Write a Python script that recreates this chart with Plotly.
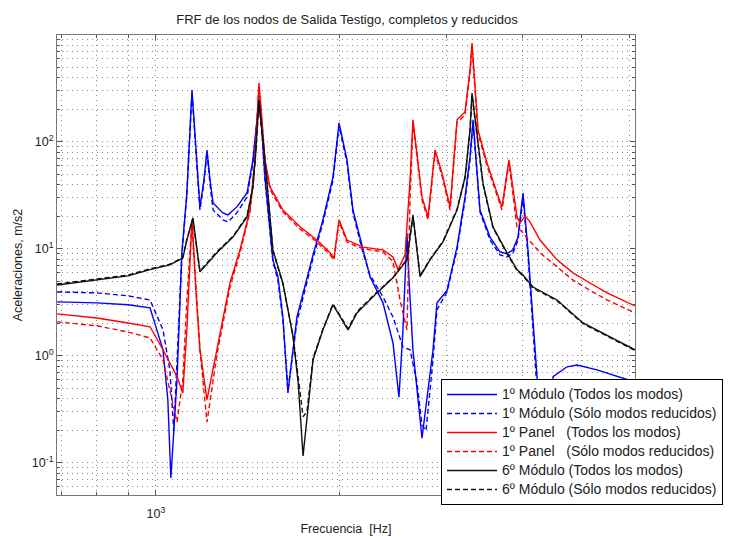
import plotly.graph_objects as go
import math

# ---------------- data ----------------
freq_mod1_all = [688, 800, 900, 978, 1027, 1046, 1058, 1083, 1103, 1124, 1146, 1163, 1181, 1199, 1213, 1227,
                 1241, 1288, 1313, 1358, 1411, 1443, 1459, 1476, 1493, 1510, 1556, 1586, 1616, 1647, 1704,
                 1770, 1811, 1880, 1953, 1998, 2059, 2106, 2187, 2246, 2359, 2450, 2506, 2544, 2583, 2603,
                 2642, 2734, 2850, 2893, 3005, 3121, 3217, 3278, 3316, 3404, 3535, 3671, 3770, 3856, 3930,
                 4005, 4081, 4223, 4353, 4487, 4731, 4913, 5298, 5629, 6116]
acc_mod1_all = [3.2, 3.13, 3.0, 2.81, 1.14, 0.39, 0.072, 0.60, 9.2, 33.3, 306, 84, 24.7, 44, 84, 44,
                26.9, 21.7, 20.8, 24.7, 33.3, 68, 129, 247, 129, 47, 7.9, 5.5, 2.31, 0.45, 2.31,
                5.5, 8.8, 18.7, 47, 151, 68, 23.1, 9.8, 5.5, 3.13, 1.32, 0.41, 1.75, 14.1, 5.1,
                1.14, 0.17, 1.14, 3.13, 4.1, 10.4, 30.6, 72, 161, 23.1, 12.9, 9.4, 9.0, 9.8, 12.9,
                33.3, 9.8, 0.64, 0.086, 0.64, 0.79, 0.82, 0.74, 0.66, 0.57]

freq_mod1_red = [688, 800, 900, 978, 1027, 1054, 1070, 1103, 1124, 1146, 1163, 1181, 1199, 1213, 1227, 1241,
                 1288, 1313, 1358, 1411, 1443, 1459, 1476, 1493, 1510, 1556, 1586, 1616, 1647, 1704, 1770,
                 1811, 1880, 1953, 1998, 2059, 2106, 2187, 2246, 2359, 2450, 2544, 2613, 2683, 2734, 2776,
                 2850, 2893, 3005, 3121, 3217, 3278, 3316, 3404, 3535, 3671, 3770, 3856, 3930, 4005, 4081,
                 4223, 4353, 4487, 4913, 6116]
acc_mod1_red = [3.96, 3.88, 3.64, 3.33, 1.75, 0.74, 0.20, 8.8, 32, 293, 81, 23.1, 41, 81, 40, 23.1,
                18.7, 17.9, 21.7, 30.6, 64, 124, 237, 124, 44, 7.6, 5.1, 2.17, 0.48, 2.08, 5.1,
                8.2, 17.5, 44, 141, 64, 21.7, 9.2, 5.7, 3.56, 2.31, 1.21, 1.14, 0.56, 0.226, 0.20,
                0.92, 2.69, 3.96, 9.8, 28.7, 68, 151, 22.2, 12.1, 8.8, 8.4, 9.2, 12.1, 30.6, 8.8,
                0.48, 0.069, 0.25, 0.31, 0.25]

freq_panel_all = [688, 800, 900, 978, 1027, 1083, 1107, 1124, 1146, 1163, 1181, 1213, 1259, 1323, 1374,
                  1427, 1454, 1476, 1493, 1510, 1539, 1616, 1724, 1838, 1931, 1960, 1998, 2059, 2187,
                  2359, 2450, 2497, 2564, 2613, 2642, 2734, 2797, 2872, 2949, 3040, 3121, 3217, 3278,
                  3303, 3379, 3495, 3603, 3699, 3798, 3915, 3960, 4036, 4112, 4271, 4555, 4839, 5160,
                  5503, 6116]
acc_panel_all = [2.47, 2.26, 2.03, 1.87, 1.14, 0.64, 0.45, 1.75, 18.7, 4.1, 1.14, 0.39, 1.14, 4.8, 9.8,
                 23.1, 68, 356, 161, 68, 38, 23.1, 16.1, 12.1, 9.2, 8.2, 18.7, 12.1, 10.4,
                 9.8, 8.4, 6.4, 8.8, 44, 161, 30.6, 19.9, 84, 51, 24.7, 161, 191, 471,
                 842, 129, 64, 38, 24.7, 68, 19.9, 17.5, 20.3, 17.9, 12.1, 7.9, 5.97, 4.8,
                 3.88, 2.93]

freq_panel_red = [688, 800, 900, 978, 1027, 1083, 1107, 1124, 1146, 1163, 1181, 1213, 1259, 1323, 1374,
                  1427, 1454, 1476, 1493, 1510, 1539, 1616, 1724, 1838, 1931, 1960, 1998, 2059, 2187,
                  2359, 2450, 2516, 2583, 2613, 2642, 2734, 2797, 2872, 2949, 3040, 3121, 3217, 3278,
                  3303, 3379, 3495, 3603, 3699, 3798, 3915, 4005, 4271, 4555, 4839, 5160, 5503, 6116]
acc_panel_red = [2.08, 1.91, 1.67, 1.47, 0.92, 0.24, 0.60, 3.33, 17.9, 4.1, 1.14, 0.24, 1.02, 4.4, 9.2,
                 22.2, 65, 333, 154, 65, 36, 22.2, 15.4, 11.6, 8.8, 7.9, 17.9, 11.6, 10.0,
                 9.4, 7.6, 3.33, 1.75, 28.7, 151, 28.7, 18.7, 79, 48, 23.1, 151, 179, 442,
                 789, 121, 60, 36, 23.1, 64, 16.1, 14.1, 9.2, 6.8, 5.1, 4.1, 3.33, 2.52]

freq_mod6_all = [688, 800, 900, 978, 1054, 1107, 1124, 1150, 1181, 1259, 1338, 1411, 1443, 1459, 1476,
                 1493, 1510, 1556, 1616, 1679, 1712, 1744, 1770, 1811, 1880, 1953, 2067, 2138, 2306,
                 2450, 2583, 2642, 2714, 2818, 2960, 3121, 3217, 3278, 3303, 3366, 3443, 3575, 3770,
                 3915, 4005, 4159, 4555, 5025, 5566, 6116]
acc_mod6_all = [4.6, 5.1, 5.6, 6.4, 7.1, 8.2, 12.1, 19.5, 6.1, 9.2, 12.9, 19.9, 38, 84, 247,
                129, 68, 9.8, 4.8, 1.51, 0.56, 0.116, 0.27, 0.92, 1.75, 3.0, 1.75, 2.52, 3.88,
                5.36, 7.9, 20.8, 5.5, 7.9, 11.6, 23.1, 47, 129, 287, 111, 41, 16.1, 9.2,
                6.4, 5.7, 4.4, 3.33, 2.03, 1.51, 1.14]

freq_mod6_red = [688, 800, 900, 978, 1054, 1107, 1124, 1150, 1181, 1259, 1338, 1411, 1443, 1459, 1476,
                 1493, 1510, 1556, 1616, 1679, 1712, 1744, 1770, 1811, 1880, 1953, 2067, 2138, 2306,
                 2450, 2583, 2642, 2714, 2818, 2960, 3121, 3217, 3278, 3303, 3366, 3443, 3575, 3770,
                 3915, 4005, 4159, 4555, 5025, 5566, 6116]
acc_mod6_red = [4.7, 5.2, 5.7, 6.5, 7.2, 8.3, 12.3, 19.0, 6.2, 9.4, 13.1, 20.3, 38, 82, 240,
                126, 66, 9.6, 4.7, 1.55, 0.62, 0.27, 0.30, 0.95, 1.78, 3.05, 1.8, 2.58, 3.95,
                5.4, 8.0, 20.0, 5.6, 8.0, 11.8, 23.5, 46, 126, 275, 108, 40, 15.8, 9.0,
                6.3, 5.6, 4.3, 3.28, 2.0, 1.48, 1.12]

series_names = ["1º Módulo (Todos los modos)",
                "1º Módulo (Sólo modos reducidos)",
                "1º Panel\u00a0\u00a0\u00a0(Todos los modos)",
                "1º Panel\u00a0\u00a0\u00a0(Sólo modos reducidos)",
                "6º Módulo (Todos los modos)",
                "6º Módulo (Sólo modos reducidos)"]

x_major = [1000]
x_major_text = ["10<sup>3</sup>"]
x_minor = [700, 800, 900, 2000, 3000, 4000, 5000, 6000]
y_major = [0.1, 1, 10, 100]
y_major_text = ["10<sup>-1</sup>", "10<sup>0</sup>", "10<sup>1</sup>", "10<sup>2</sup>"]
y_minor = [m * 10 ** e for e in (-2, -1, 0, 1, 2) for m in range(2, 10)]

# ---------------- figure ----------------
series = [
    (freq_mod1_all, acc_mod1_all, "#0000ff", "solid"),
    (freq_mod1_red, acc_mod1_red, "#0000ff", "5px,3px"),
    (freq_panel_all, acc_panel_all, "#ff0000", "solid"),
    (freq_panel_red, acc_panel_red, "#ff0000", "5px,3px"),
    (freq_mod6_all, acc_mod6_all, "#111111", "solid"),
    (freq_mod6_red, acc_mod6_red, "#111111", "5px,3px"),
]

fig = go.Figure()
for (fx, fy, col, dash), name in zip(series, series_names):
    fig.add_trace(go.Scatter(x=fx, y=fy, mode="lines",
                             name='<span style="font-size:14px">' + name + '</span>',
                             line=dict(color=col, width=1.4, dash=dash)))

font_fam = "Liberation Sans, Arial, sans-serif"
grid_col = "#8a8a8a"

fig.update_layout(
    template="none",
    width=733, height=536,
    margin=dict(l=57, r=98, t=35, b=41, autoexpand=False),
    paper_bgcolor="white", plot_bgcolor="white",
    font=dict(family=font_fam, size=12, color="#222"),
    title=dict(text="FRF de los nodos de Salida Testigo, completos y reducidos",
               x=347 / 733, xanchor="center", y=1 - 19 / 536, yanchor="middle",
               font=dict(size=13, color="#222")),
    showlegend=True,
    legend=dict(x=(441 - 57) / 578, y=(495 - 379) / 460, xanchor="left", yanchor="top",
                bgcolor="white", bordercolor="#000", borderwidth=1,
                font=dict(size=11.5, color="#222"), tracegroupgap=0, itemwidth=50,
                traceorder="normal"),
)

fig.update_xaxes(type="log", range=[math.log10(688), math.log10(6116)], automargin=False,
                 tickmode="array", tickvals=x_major, ticktext=x_major_text,
                 ticks="inside", ticklen=5, tickcolor="#555", ticklabelstandoff=7,
                 showgrid=True, gridcolor=grid_col, griddash="1px,4px", gridwidth=1,
                 showline=True, linecolor="#777", linewidth=1, mirror="allticks",
                 zeroline=False,
                 minor=dict(tickmode="array", tickvals=x_minor, ticks="inside", ticklen=3,
                            tickcolor="#555", showgrid=True, gridcolor=grid_col,
                            griddash="1px,4px", gridwidth=1),
                 title=dict(text="Frecuencia\u00a0\u00a0[Hz]", standoff=4, font=dict(size=12.5)),
                 tickfont=dict(size=12.5, color="#222"))

fig.update_yaxes(type="log", range=[math.log10(0.05), 3], automargin=False,
                 tickmode="array", tickvals=y_major, ticktext=y_major_text,
                 ticks="inside", ticklen=5, tickcolor="#555",
                 showgrid=True, gridcolor=grid_col, griddash="1px,4px", gridwidth=1,
                 showline=True, linecolor="#777", linewidth=1, mirror="allticks",
                 zeroline=False,
                 minor=dict(tickmode="array", tickvals=y_minor, ticks="inside", ticklen=3,
                            tickcolor="#555", showgrid=True, gridcolor=grid_col,
                            griddash="1px,4px", gridwidth=1),
                 title=dict(text="Aceleraciones, m/s2", standoff=6, font=dict(size=12.5)),
                 tickfont=dict(size=12.5, color="#222"))

fig.write_html("out.html")
